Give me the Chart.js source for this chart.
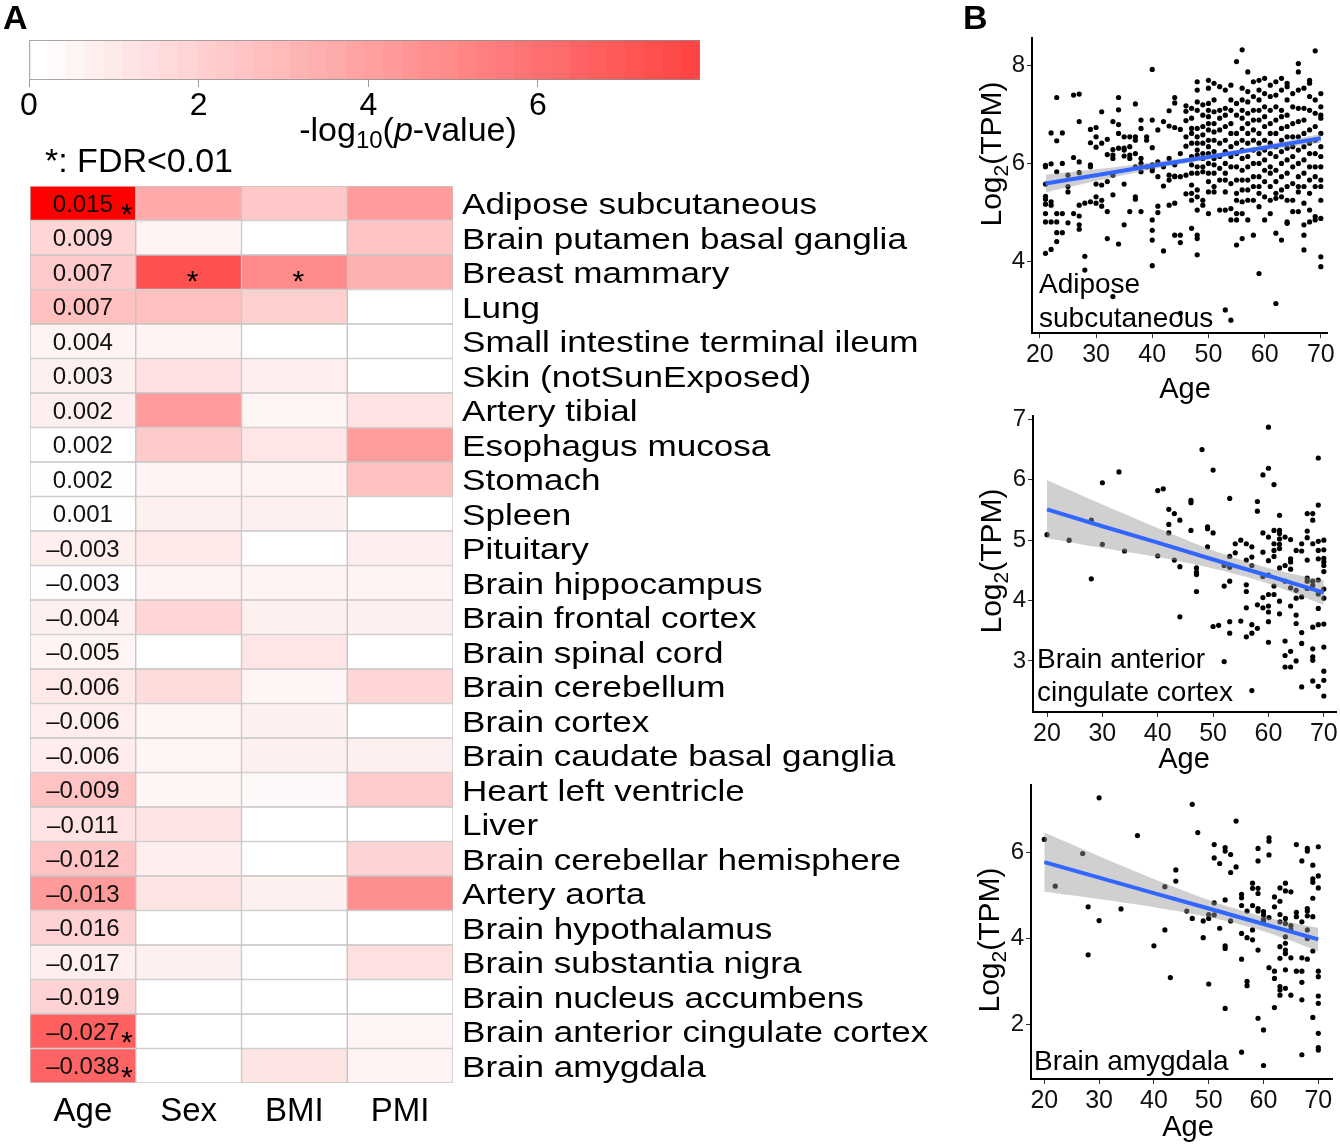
<!DOCTYPE html>
<html>
<head>
<meta charset="utf-8">
<script src="https://cdn.jsdelivr.net/npm/chart.js@4.4.1/dist/chart.umd.min.js"></script>
<style>
  html, body { margin: 0; padding: 0; background: #fff; }
  #fig { position: relative; width: 1340px; height: 1144px; overflow: hidden; }
  .box { position: absolute; }
</style>
</head>
<body>
<div id="fig">
  <div class="box" style="left:0;top:0;"><canvas id="cbar" width="720" height="180"></canvas></div>
  <div class="box" style="left:0;top:180px;"><canvas id="heat" width="945" height="964"></canvas></div>
  <div class="box" style="left:940px;top:0;"><canvas id="sc1" width="400" height="410"></canvas></div>
  <div class="box" style="left:940px;top:400px;"><canvas id="sc2" width="400" height="380"></canvas></div>
  <div class="box" style="left:940px;top:775px;"><canvas id="sc3" width="400" height="369"></canvas></div>
</div>
<script>
'use strict';

// ---------- panel A data ----------
var tissues = ['Adipose subcutaneous', 'Brain putamen basal ganglia', 'Breast mammary', 'Lung',
  'Small intestine terminal ileum', 'Skin (notSunExposed)', 'Artery tibial', 'Esophagus mucosa',
  'Stomach', 'Spleen', 'Pituitary', 'Brain hippocampus', 'Brain frontal cortex', 'Brain spinal cord',
  'Brain cerebellum', 'Brain cortex', 'Brain caudate basal ganglia', 'Heart left ventricle', 'Liver',
  'Brain cerebellar hemisphere', 'Artery aorta', 'Brain hypothalamus', 'Brain substantia nigra',
  'Brain nucleus accumbens', 'Brain anterior cingulate cortex', 'Brain amygdala'];
var covariates = ['Age', 'Sex', 'BMI', 'PMI'];
var ageCoef = [0.015, 0.009, 0.007, 0.007, 0.004, 0.003, 0.002, 0.002, 0.002, 0.001, -0.003, -0.003, -0.004,
  -0.005, -0.006, -0.006, -0.006, -0.009, -0.011, -0.012, -0.013, -0.016, -0.017, -0.019, -0.027, -0.038];
// -log10(p) per covariate, same row order as tissues
var ageLogP = [10.5, 1.73, 2.18, 2.59, 0.49, 0.62, 0.70, 0.00, 0.05, 0.05, 0.70, 0.10, 0.62, 0.49, 0.95, 0.70, 0.80, 2.45, 1.15, 2.45, 4.16, 1.80, 0.70, 1.80, 6.59, 6.38];
var sexLogP = [3.50, 0.49, 7.20, 2.59, 0.49, 1.28, 4.12, 2.18, 0.49, 0.62, 0.90, 0.49, 1.75, 0.00, 1.44, 0.41, 0.41, 0.41, 1.10, 0.70, 1.10, 0.00, 0.62, 0.00, 0.00, 0.00];
var bmiLogP = [2.26, 0.00, 4.82, 1.94, 0.00, 0.70, 0.41, 1.07, 0.49, 0.62, 0.00, 0.49, 0.62, 1.07, 0.41, 0.62, 0.62, 0.30, 0.00, 0.00, 0.62, 0.00, 0.00, 0.00, 0.00, 1.10];
var pmiLogP = [4.12, 2.39, 3.25, 0.00, 0.00, 0.00, 1.15, 4.08, 2.59, 0.00, 0.70, 0.49, 0.62, 0.00, 1.75, 0.00, 0.62, 2.10, 0.00, 1.80, 4.60, 0.00, 1.28, 0.00, 0.41, 0.49];
// rows with FDR < 0.01
var starAge = [0, 24, 25];
var starSex = [2];
var starBmi = [2];

var colorbarMax = 7.91;
var colorbarTicks = [0, 2, 4, 6];
var colorMax = 10.5;

// ---------- panel B data: [age, [log2(TPM) values]] ----------
var adiposePoints = [
  [21, [5.96, 5.93, 5.58, 5.33, 5.27, 5.17, 4.98, 4.81, 4.17]],
  [22, [6.62, 5.99, 5.22, 5.15, 4.81, 4.25]],
  [23, [7.34, 6.46, 5.83, 4.98, 4.81, 4.59, 4.41]],
  [24, [6.62, 6.00, 4.98, 4.59]],
  [25, [5.76, 5.53, 5.42, 4.79]],
  [26, [7.39, 6.12, 4.98]],
  [27, [7.41, 6.85, 6.03, 5.81, 5.15, 4.93, 4.75, 4.66]],
  [28, [5.19, 4.11, 3.83]],
  [29, [6.69, 6.42, 5.97, 5.93, 5.22]],
  [30, [6.73, 6.54, 6.33, 5.58, 5.32, 5.19]],
  [31, [7.05, 6.41, 5.56, 5.25, 5.13]],
  [32, [6.49, 6.18, 5.63, 5.02, 4.47]],
  [33, [6.85, 6.28, 6.17, 6.10, 5.76, 5.36, 3.29]],
  [34, [7.34, 7.09, 6.79, 6.61, 6.31, 4.36]],
  [35, [6.54, 6.31, 6.27, 6.15, 5.58, 4.75]],
  [36, [6.54, 6.34, 6.17, 6.10, 5.02]],
  [37, [7.21, 6.54, 6.47, 6.20, 5.93, 5.32, 5.27]],
  [38, [6.88, 6.71, 6.10, 6.00, 5.83, 5.02]],
  [39, [6.54, 6.47, 5.93]],
  [40, [7.91, 6.88, 6.32, 5.97, 5.90, 5.85, 4.85, 4.64, 4.44, 3.92]],
  [41, [6.68, 6.03, 5.73, 5.13, 5.00]],
  [42, [6.85, 5.93, 5.54, 4.22]],
  [43, [7.07, 6.76, 6.10, 5.76, 5.66, 5.15]],
  [44, [7.34, 7.23, 6.73, 5.97, 5.74, 5.73, 5.19, 4.54]],
  [45, [6.69, 6.20, 5.73, 4.54, 4.39, 2.95]],
  [46, [7.17, 7.06, 6.87, 6.54, 6.35, 5.76, 5.38]],
  [47, [7.12, 6.92, 6.71, 6.61, 6.41, 6.14, 5.97, 5.80, 5.56, 5.39, 5.25, 4.68]],
  [48, [7.66, 7.49, 7.25, 7.08, 6.71, 6.54, 6.41, 6.27, 6.17, 5.93, 5.80, 5.46, 5.32, 5.05, 4.54, 4.47, 4.14]],
  [49, [7.19, 6.98, 6.75, 6.58, 6.41, 6.20, 6.10, 5.93, 5.83, 5.25, 5.15]],
  [50, [7.69, 7.53, 7.22, 7.08, 6.95, 6.81, 6.68, 6.47, 6.34, 6.20, 6.00, 5.80, 5.63, 5.42, 4.98]],
  [51, [7.63, 7.29, 7.05, 6.81, 6.64, 6.47, 6.24, 6.10, 5.97, 5.80, 5.53, 5.42]],
  [52, [7.56, 7.08, 6.92, 6.68, 6.41, 6.14, 5.90, 5.66, 5.05]],
  [53, [7.49, 7.12, 6.98, 6.75, 6.47, 6.24, 6.00, 5.80, 5.66, 5.42, 5.05, 3.02]],
  [54, [7.59, 7.29, 7.08, 6.81, 6.61, 6.34, 6.14, 5.93, 5.59, 5.08, 4.85, 2.81]],
  [55, [8.07, 7.22, 6.98, 6.61, 6.41, 6.20, 5.93, 5.66, 5.39, 5.25, 4.98, 4.85, 4.34]],
  [56, [8.31, 7.53, 7.29, 7.08, 6.92, 6.71, 6.47, 6.27, 6.10, 5.86, 5.66, 5.46, 5.22, 4.98, 4.47]],
  [57, [7.86, 7.46, 7.25, 7.02, 6.81, 6.61, 6.41, 6.14, 5.93, 5.66, 5.46, 5.25, 4.85]],
  [58, [7.66, 7.36, 7.08, 6.88, 6.68, 6.47, 6.27, 6.00, 5.73, 5.53, 5.25, 4.54]],
  [59, [7.69, 7.49, 7.29, 7.08, 6.88, 6.61, 6.41, 6.20, 6.00, 5.73, 5.53, 5.39, 5.12, 3.76]],
  [60, [7.73, 7.42, 7.15, 6.95, 6.75, 6.47, 6.27, 6.07, 5.86, 5.63, 5.32, 4.85]],
  [61, [7.59, 7.36, 7.08, 6.81, 6.61, 6.41, 6.20, 5.93, 5.80, 5.53, 5.25, 4.98]],
  [62, [7.66, 7.39, 7.15, 6.88, 6.61, 6.34, 6.14, 5.86, 5.63, 5.39, 5.29, 4.58, 3.15]],
  [63, [7.73, 7.49, 7.08, 6.95, 6.71, 6.47, 6.24, 6.00, 5.73, 5.46, 5.32, 4.44]],
  [64, [7.63, 7.56, 7.29, 6.98, 6.75, 6.54, 6.31, 6.07, 5.80, 5.53, 5.25, 4.81, 4.78]],
  [65, [7.42, 7.15, 6.81, 6.54, 6.34, 6.14, 5.93, 5.59, 5.25, 5.02]],
  [66, [8.03, 7.86, 7.49, 7.12, 6.85, 6.54, 6.27, 6.00, 5.73, 5.53, 5.42, 5.02]],
  [67, [7.53, 7.12, 6.88, 6.61, 6.34, 6.07, 5.80, 5.53, 5.19, 4.75, 4.54, 4.24]],
  [68, [7.69, 7.63, 7.36, 7.08, 6.68, 6.41, 6.20, 5.93, 5.66, 5.39, 5.05, 4.81]],
  [69, [8.29, 7.29, 7.02, 6.75, 6.47, 6.20, 5.93, 5.73, 5.53, 4.92, 4.85]],
  [70, [7.42, 7.15, 6.98, 6.92, 6.61, 6.34, 6.14, 5.93, 5.66, 5.53, 5.25, 4.88, 4.10, 3.90]]
];
var adiposeFitAge = [21, 30, 40, 50, 60, 70];
var adiposeFit = [5.59, 5.76, 5.95, 6.13, 6.32, 6.51];
var adiposeLow = [5.41, 5.64, 5.88, 6.08, 6.26, 6.42];
var adiposeHigh = [5.77, 5.88, 6.02, 6.18, 6.38, 6.60];

var accPoints = [
  [20, [5.09]], [24, [5.00]], [28, [5.33, 4.36]], [30, [5.95, 4.93]], [33, [6.13]], [34, [4.82]],
  [40, [5.82, 4.74]], [41, [5.85]], [42, [5.51, 5.26, 5.12]], [43, [5.44, 4.67]], [44, [5.33, 4.56, 3.73]],
  [46, [5.66, 5.62, 5.16]], [47, [4.54, 4.47, 4.43, 4.15]], [48, [6.50]], [49, [5.22, 5.19, 4.89]],
  [50, [6.16, 5.12, 3.57]], [51, [3.59]], [52, [4.58, 4.24, 2.99]],
  [53, [5.69, 4.73, 4.55, 4.32, 3.65, 3.46]], [54, [4.94, 4.79]], [55, [5.00, 3.66]],
  [56, [4.94, 4.67, 4.26, 4.15, 3.88, 3.40]], [57, [4.89, 4.72, 4.58, 3.60, 3.46, 2.51]],
  [58, [5.64, 5.48, 3.93, 3.54]], [59, [6.08, 5.12, 4.80, 4.40, 4.05, 3.88]],
  [60, [6.87, 6.19, 5.05, 4.66, 4.42, 4.10, 3.91, 3.81, 3.65, 3.31]],
  [61, [5.92, 5.16, 4.94, 4.83, 4.73, 4.24, 4.10]],
  [62, [5.41, 5.16, 5.11, 5.02, 4.93, 4.86, 4.54, 3.99, 3.78]],
  [63, [5.05, 4.58, 4.32, 3.33, 3.09, 2.90]],
  [64, [5.01, 4.69, 4.64, 4.52, 4.21, 3.91, 3.16, 2.90]],
  [65, [4.83, 4.17, 4.04, 3.76, 3.62, 3.00]],
  [66, [4.94, 4.82, 4.06, 3.47, 3.29, 2.57]],
  [67, [5.44, 5.15, 5.04, 4.67, 4.37, 4.32, 4.20]],
  [68, [5.44, 5.33, 4.94, 4.32, 4.25, 3.56, 3.20, 3.07, 3.01, 2.67]],
  [69, [6.36, 5.58, 4.98, 4.83, 4.69, 4.34, 4.11, 3.87, 3.60, 2.58]],
  [70, [5.00, 4.84, 4.70, 4.64, 4.58, 4.48, 4.19, 4.04, 3.61, 3.23, 2.83, 2.68, 2.42]]
];
var accFitAge = [20, 30, 40, 50, 60, 70];
var accFit = [5.51, 5.23, 4.96, 4.68, 4.41, 4.13];
var accLow = [5.03, 4.87, 4.72, 4.53, 4.28, 3.93];
var accHigh = [5.99, 5.59, 5.20, 4.83, 4.54, 4.33];

var amygPoints = [
  [20, [6.31]], [22, [5.22]], [27, [5.98]], [28, [4.74, 3.62]], [30, [7.28, 4.42]], [34, [4.69]],
  [37, [6.40]], [40, [3.83]], [42, [5.21, 4.20]], [43, [3.09]], [44, [5.60, 5.34]], [46, [4.64]],
  [47, [7.13, 4.47]], [48, [6.47]], [49, [4.41, 4.02]], [50, [4.56, 4.47, 2.94]],
  [51, [6.19, 5.88, 4.83, 4.55]], [52, [5.75, 4.24]], [53, [6.12, 6.04, 4.90, 3.83, 3.77, 2.37]],
  [54, [5.96, 5.54, 4.41]], [55, [6.74, 5.67]], [56, [5.03, 4.95, 4.77, 4.12, 3.52, 1.35]],
  [57, [4.64, 4.02, 3.00, 2.90]], [58, [5.29, 5.17, 4.77, 4.20, 3.97]],
  [59, [6.10, 5.81, 5.17, 5.05, 4.70, 4.64, 3.73, 2.14]],
  [60, [4.63, 4.55, 4.45, 4.39, 1.87, 1.04]], [61, [6.35, 6.27, 5.95, 4.49, 3.32]],
  [62, [4.97, 4.74, 3.24, 3.07, 2.39]],
  [63, [5.18, 4.87, 4.56, 4.39, 3.81, 3.54, 2.88, 2.80, 2.68]],
  [64, [5.29, 5.11, 4.47, 4.35, 4.04, 3.89, 3.73, 3.65, 3.27, 2.84]],
  [65, [5.09, 4.30, 4.20, 3.55, 2.68]], [66, [6.19, 4.61, 4.51, 3.24]],
  [67, [5.81, 4.39, 3.55, 3.24, 2.98, 2.57, 1.29]],
  [68, [6.10, 6.04, 4.70, 4.64, 4.53, 4.20, 4.00, 3.52]],
  [69, [5.71, 5.39, 5.31, 4.94, 4.51, 3.71, 2.16]],
  [70, [6.14, 5.46, 5.18, 3.24, 3.11, 2.66, 2.49, 1.79, 1.46, 1.40]]
];
var amygFitAge = [20, 30, 40, 50, 60, 70];
var amygFit = [5.78, 5.42, 5.06, 4.70, 4.34, 3.98];
var amygLow = [5.09, 4.92, 4.73, 4.50, 4.17, 3.71];
var amygHigh = [6.47, 5.92, 5.39, 4.90, 4.51, 4.25];

var ageTicks = [20, 30, 40, 50, 60, 70];

// ---------- helpers ----------
var FONT = "'Liberation Sans', Arial, Helvetica, sans-serif";
Chart.defaults.font.family = FONT;
Chart.defaults.color = '#000';
Chart.defaults.animation = false;
Chart.defaults.plugins.legend.display = false;
Chart.defaults.plugins.tooltip.enabled = false;

function heatColor(v) {
  var t = Math.max(0, Math.min(1, v / colorMax));
  var gb = Math.round(255 * (1 - t));
  return 'rgb(255,' + gb + ',' + gb + ')';
}

function fmtCoef(v) {
  return (v < 0 ? '\u2013' : '') + Math.abs(v).toFixed(3);
}

// draws pieces of text one after another (for subscripts / italics)
function drawRich(c, parts, x, y, align) {
  var total = 0;
  parts.forEach(function(p) {
    c.font = (p.style || '') + p.size + 'px ' + FONT;
    p.w = c.measureText(p.text).width;
    total += p.w;
  });
  var cx = align === 'center' ? x - total / 2 : x;
  c.textAlign = 'left';
  c.textBaseline = 'alphabetic';
  parts.forEach(function(p) {
    c.font = (p.style || '') + p.size + 'px ' + FONT;
    c.fillText(p.text, cx, y + (p.dy || 0));
    cx += p.w;
  });
}

function stretchText(c, text, x, y, sx) {
  c.save();
  c.translate(x, y);
  c.scale(sx, 1);
  c.fillText(text, 0, 0);
  c.restore();
}

function fixedTicks(list) {
  return function(scale) {
    scale.ticks = list.map(function(v) { return { value: v }; });
  };
}

// ---------- colour bar ----------
function barGradient(chart) {
  if (!chart.chartArea) return '#fff';
  var xs = chart.scales.x;
  var x0 = xs.getPixelForValue(0), x1 = xs.getPixelForValue(colorbarMax);
  var g = chart.ctx.createLinearGradient(x0, 0, x1, 0);
  var n = 36;
  for (var k = 0; k < n; k++) {
    var col = heatColor(colorbarMax * k / n);
    g.addColorStop(k / n, col);
    g.addColorStop((k + 1) / n, col);
  }
  return g;
}

var colorbarText = {
  id: 'colorbarText',
  afterDraw: function(chart) {
    var c = chart.ctx;
    c.save();
    c.fillStyle = '#000';
    c.font = 'bold 34px ' + FONT;
    c.textAlign = 'left';
    c.textBaseline = 'alphabetic';
    c.fillText('A', 3, 29);
    drawRich(c, [
      { text: '-log', size: 34 },
      { text: '10', size: 24, dy: 7 },
      { text: '(', size: 34 },
      { text: 'p', size: 34, style: 'italic ' },
      { text: '-value)', size: 34 }
    ], 408, 141, 'center');
    c.font = '34px ' + FONT;
    c.fillText('*: FDR<0.01', 45, 172);
    c.restore();
  }
};

new Chart(document.getElementById('cbar'), {
  type: 'bar',
  data: {
    labels: [''],
    datasets: [{
      data: [[0, colorbarMax]],
      backgroundColor: function(ctx) { return barGradient(ctx.chart); },
      borderColor: '#8c8c8c',
      borderWidth: 1,
      borderSkipped: false,
      barPercentage: 1,
      categoryPercentage: 1
    }]
  },
  options: {
    indexAxis: 'y',
    responsive: false,
    layout: { padding: { left: 29, right: 20, top: 40, bottom: 0 } },
    scales: {
      x: {
        type: 'linear', min: 0, max: colorbarMax, bounds: 'data',
        afterBuildTicks: fixedTicks(colorbarTicks),
        afterFit: function(s) { s.height = 100; s.paddingLeft = 0; s.paddingRight = 0; },
        grid: { drawOnChartArea: false, drawTicks: true, tickLength: 7, color: '#9a9a9a' },
        border: { display: false },
        ticks: { font: { size: 32 }, color: '#000', padding: 0, maxRotation: 0 }
      },
      y: { display: false }
    }
  },
  plugins: [colorbarText]
});

// ---------- heatmap ----------
var logPs = [ageLogP, sexLogP, bmiLogP, pmiLogP];

var heatText = {
  id: 'heatText',
  afterDatasetsDraw: function(chart) {
    var c = chart.ctx, xs = chart.scales.x, ys = chart.scales.y;
    c.save();
    c.fillStyle = '#000';
    c.textBaseline = 'alphabetic';
    tissues.forEach(function(name, i) {
      var y = ys.getPixelForValue(i);
      c.font = '24px ' + FONT;
      c.textAlign = 'center';
      c.fillStyle = '#111';
      c.fillText(fmtCoef(ageCoef[i]), xs.getPixelForValue(0.5), y + 8.5);
      c.fillStyle = '#000';
      c.font = '30px ' + FONT;
      c.textAlign = 'left';
      stretchText(c, name, xs.getPixelForValue(4) + 9, y + 10.8, 1.17);
    });
    c.font = '30px ' + FONT;
    c.textAlign = 'center';
    starAge.forEach(function(i) {
      c.fillText('*', xs.getPixelForValue(1) - 9, ys.getPixelForValue(i) + 21);
    });
    starSex.forEach(function(i) {
      c.fillText('*', xs.getPixelForValue(1.5) + 4, ys.getPixelForValue(i) + 19);
    });
    starBmi.forEach(function(i) {
      c.fillText('*', xs.getPixelForValue(2.5) + 4, ys.getPixelForValue(i) + 19);
    });
    c.font = '33px ' + FONT;
    covariates.forEach(function(name, k) {
      c.fillText(name, xs.getPixelForValue(k + 0.5), chart.chartArea.bottom + 38);
    });
    c.restore();
  }
};

new Chart(document.getElementById('heat'), {
  type: 'bar',
  data: {
    labels: tissues,
    datasets: covariates.map(function(name, k) {
      return {
        label: name,
        data: tissues.map(function() { return [k, k + 1]; }),
        backgroundColor: logPs[k].map(heatColor),
        borderColor: '#c4c4c4',
        borderWidth: 1,
        borderSkipped: false,
        grouped: false,
        barPercentage: 1,
        categoryPercentage: 1
      };
    })
  },
  options: {
    indexAxis: 'y',
    responsive: false,
    layout: { padding: { left: 30, right: 492, top: 6, bottom: 61 } },
    scales: {
      x: { type: 'linear', min: 0, max: 4, display: false },
      y: { display: false }
    }
  },
  plugins: [heatText]
});

// ---------- scatter plots ----------
function toXY(xs, ys) {
  return xs.map(function(x, i) { return { x: x, y: ys[i] }; });
}

function makeScatter(id, o) {
  var pts = [];
  o.points.forEach(function(g) {
    g[1].forEach(function(v) { pts.push({ x: g[0], y: v }); });
  });

  var labels = {
    id: 'labels_' + id,
    afterDraw: function(chart) {
      var c = chart.ctx, a = chart.chartArea;
      c.save();
      c.fillStyle = '#000';
      c.textBaseline = 'alphabetic';
      if (o.letter) {
        c.font = 'bold 34px ' + FONT;
        c.textAlign = 'left';
        c.fillText(o.letter, 23, 29);
      }
      c.font = '28px ' + FONT;
      c.textAlign = 'left';
      o.text.forEach(function(t) {
        c.fillText(t[0], a.left + t[1], a.bottom - t[2]);
      });
      c.font = '29px ' + FONT;
      c.textAlign = 'center';
      c.fillText('Age', o.ageX, o.ageY);
      c.translate(o.ylabX, o.ylabY);
      c.rotate(-Math.PI / 2);
      drawRich(c, [
        { text: 'Log', size: 30 },
        { text: '2', size: 21, dy: 7 },
        { text: '(TPM)', size: 30 }
      ], 0, 10.5, 'center');
      c.restore();
    }
  };

  return new Chart(document.getElementById(id), {
    type: 'scatter',
    data: {
      datasets: [
        { type: 'scatter', data: pts, pointRadius: 2.6, pointBackgroundColor: '#000', pointBorderWidth: 0, order: 3 },
        { type: 'line', data: toXY(o.fitAge, o.high), borderWidth: 0, pointRadius: 0, tension: 0.3,
          fill: '+1', backgroundColor: 'rgba(150,150,150,0.45)', order: 2 },
        { type: 'line', data: toXY(o.fitAge, o.low), borderWidth: 0, pointRadius: 0, tension: 0.3,
          fill: false, order: 2 },
        { type: 'line', data: toXY(o.fitAge, o.fit), borderColor: '#3366FF', borderWidth: 4,
          pointRadius: 0, fill: false, order: 1 }
      ]
    },
    options: {
      responsive: false,
      layout: { padding: { left: 0, right: o.padRight, top: o.padTop, bottom: 0 } },
      scales: {
        x: {
          type: 'linear', min: o.xMin, max: o.xMax, bounds: 'data',
          afterBuildTicks: fixedTicks(ageTicks),
          afterFit: function(s) { s.height = o.axisH; s.paddingLeft = 0; s.paddingRight = 0; },
          grid: { drawOnChartArea: false, tickLength: 5, color: '#333' },
          border: { color: '#000', width: 2 },
          ticks: { font: { size: 25 }, color: '#111', padding: 2, maxRotation: 0, autoSkip: false }
        },
        y: {
          type: 'linear', min: o.yMin, max: o.yMax, bounds: 'data',
          afterBuildTicks: fixedTicks(o.yTicks),
          afterFit: function(s) { s.width = o.axisW; s.paddingTop = 0; s.paddingBottom = 0; },
          grid: { drawOnChartArea: false, tickLength: 5, color: '#333' },
          border: { color: '#000', width: 2 },
          ticks: { font: { size: 24 }, color: '#111', padding: 2, autoSkip: false }
        }
      }
    },
    plugins: [labels]
  });
}

makeScatter('sc1', {
  points: adiposePoints, fitAge: adiposeFitAge, fit: adiposeFit, low: adiposeLow, high: adiposeHigh,
  xMin: 18.6, xMax: 71.1, yMin: 2.55, yMax: 8.55, yTicks: [4, 6, 8],
  padRight: 13, padTop: 38, axisW: 92, axisH: 77,
  letter: 'B',
  text: [['Adipose', 7, 40], ['subcutaneous', 7, 6]],
  ageX: 245, ageY: 398, ylabX: 50, ylabY: 154
});

makeScatter('sc2', {
  points: accPoints, fitAge: accFitAge, fit: accFit, low: accLow, high: accHigh,
  xMin: 17.47, xMax: 72.2, yMin: 2.155, yMax: 7.055, yTicks: [3, 4, 5, 6, 7],
  padRight: 3, padTop: 16, axisW: 93, axisH: 68,
  text: [['Brain anterior', 4, 44], ['cingulate cortex', 4, 11]],
  ageX: 244, ageY: 368, ylabX: 50, ylabY: 161
});

makeScatter('sc3', {
  points: amygPoints, fitAge: amygFitAge, fit: amygFit, low: amygLow, high: amygHigh,
  xMin: 17.57, xMax: 72.5, yMin: 0.725, yMax: 7.58, yTicks: [2, 4, 6],
  padRight: 8, padTop: 10, axisW: 91, axisH: 65,
  text: [['Brain amygdala', 3, 9]],
  ageX: 248, ageY: 361, ylabX: 48, ylabY: 165
});
</script>
</body>
</html>
